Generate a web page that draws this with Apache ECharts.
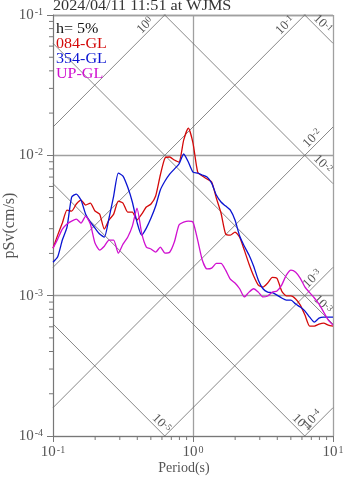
<!DOCTYPE html>
<html><head><meta charset="utf-8">
<script src="https://cdn.jsdelivr.net/npm/echarts@6/dist/echarts.min.js"></script>
<style>html,body{margin:0;padding:0;background:#fff}#c{width:347px;height:478px}</style>
</head><body><div id="c"></div>
<script>
// ---- data ----
const titleText = '2024/04/11 11:51 at WJMS';
const dampingText = 'h= 5%';
const seriesNames = ['084-GL', '354-GL', 'UP-GL'];
const periods = [0.1, 0.108, 0.1166, 0.1259, 0.1359, 0.1468, 0.1585, 0.1711, 0.1848, 0.1995,
  0.2154, 0.2326, 0.2512, 0.2712, 0.2929, 0.3162, 0.3415, 0.3687, 0.3981, 0.4299,
  0.4642, 0.5012, 0.5412, 0.5843, 0.631, 0.6813, 0.7356, 0.7943, 0.8577, 0.9261,
  1.0, 1.08, 1.166, 1.259, 1.359, 1.468, 1.585, 1.711, 1.848, 1.995,
  2.154, 2.326, 2.512, 2.712, 2.929, 3.162, 3.415, 3.687, 3.981, 4.299,
  4.642, 5.012, 5.412, 5.843, 6.31, 6.813, 7.356, 7.943, 8.577, 9.261, 10.0];
const sv084 = [0.00218, 0.00270, 0.00329, 0.00407, 0.00401, 0.00450, 0.00480, 0.00442, 0.00457, 0.00401,
  0.00381, 0.00298, 0.00346, 0.00381, 0.00472, 0.00457, 0.00394, 0.00394, 0.00346, 0.00381,
  0.00428, 0.00450, 0.00513, 0.00724, 0.00957, 0.00973, 0.00926, 0.00896, 0.01285, 0.01563,
  0.01223, 0.00760, 0.00712, 0.00678, 0.00645, 0.00496, 0.00388, 0.00275, 0.00270, 0.00284,
  0.00261, 0.00211, 0.00168, 0.00138, 0.00119, 0.00115, 0.00123, 0.00135, 0.00133, 0.00108,
  0.000995, 0.000995, 0.000947, 0.000857, 0.000727, 0.000607, 0.000607, 0.000627, 0.000638, 0.000617,
  0.000607];
const sv354 = [0.00173, 0.00189, 0.00249, 0.00308, 0.00504, 0.00530, 0.00480, 0.00381, 0.00334, 0.00303,
  0.00275, 0.00261, 0.00357, 0.00513, 0.00747, 0.00712, 0.00594, 0.00465, 0.00334, 0.00270,
  0.00303, 0.00357, 0.00435, 0.00566, 0.00656, 0.00735, 0.00798, 0.00867, 0.01022, 0.00896,
  0.00760, 0.00747, 0.00724, 0.00700, 0.00634, 0.00521, 0.00465, 0.00435, 0.00407, 0.00346,
  0.00266, 0.00225, 0.00195, 0.00162, 0.00129, 0.00112, 0.00106, 0.00105, 0.00101, 0.000963,
  0.000930, 0.000930, 0.000871, 0.000829, 0.000776, 0.000703, 0.000648, 0.000692, 0.000703, 0.000703,
  0.000703];
const svUP = [0.00218, 0.00253, 0.00298, 0.00324, 0.00340, 0.00351, 0.00329, 0.00369, 0.00324, 0.00237,
  0.00211, 0.00225, 0.00249, 0.00249, 0.00201, 0.00233, 0.00261, 0.00313, 0.00421, 0.00279,
  0.00222, 0.00215, 0.00204, 0.00222, 0.00201, 0.00204, 0.00241, 0.00319, 0.00334, 0.00340,
  0.00334, 0.00249, 0.00179, 0.00155, 0.00157, 0.00170, 0.00170, 0.00152, 0.00131, 0.00123,
  0.00112, 0.000979, 0.00106, 0.00112, 0.00106, 0.000979, 0.000995, 0.00106, 0.00108, 0.00119,
  0.00140, 0.00152, 0.00147, 0.00133, 0.00115, 0.00105, 0.000963, 0.000871, 0.000764, 0.000670,
  0.000617];
const xRange = [0.1, 10];
const yRange = [0.0001, 0.1];
const xMajorExps = [-1, 0, 1];
const yMajorExps = [-4, -3, -2, -1];
const minorMultipliers = [2, 3, 4, 5, 6, 7, 8, 9];
const saValues = [1, 0.1, 0.01, 0.001, 0.0001];      // pseudo acceleration lines
const sdValues = [0.1, 0.01, 0.001, 0.0001, 0.00001]; // displacement lines

// ---- styles ----
const FONT = '"Liberation Serif","Times New Roman",serif';
const seriesColors = ['#d40a0a', '#0a14d2', '#d010d0'];
const TWO_PI = 2 * Math.PI;

const chart = echarts.init(document.getElementById('c'), null, {renderer: 'canvas'});

function expLabel(v) {
  const e = Math.round(Math.log10(v));
  return '10{s|' + e + '}';
}
const axisRich = {
  s: {fontSize: 10, fontFamily: FONT, color: '#555', verticalAlign: 'top', padding: [0, 0, 0, 1]}
};

const diagSeries = [];
saValues.forEach(sa => {
  diagSeries.push({
    type: 'line', silent: true, symbol: 'none', animation: false, z: 1,
    lineStyle: {color: '#6a6a6a', width: 0.8},
    data: [[xRange[0], sa * xRange[0] / TWO_PI], [xRange[1], sa * xRange[1] / TWO_PI]]
  });
});
sdValues.forEach(sd => {
  diagSeries.push({
    type: 'line', silent: true, symbol: 'none', animation: false, z: 1,
    lineStyle: {color: '#6a6a6a', width: 0.8},
    data: [[xRange[0], TWO_PI * sd / xRange[0]], [xRange[1], TWO_PI * sd / xRange[1]]]
  });
});

// labels of diagonal lines + minor ticks
const decoSeries = {
  type: 'custom', silent: true, clip: false, animation: false, z: 4,
  data: [[1, 0.01]],
  renderItem: function (params, api) {
    const children = [];
    const textStyle = (txt) => ({
      text: txt, fill: '#555', font: '13px ' + FONT,
      align: 'center', verticalAlign: 'bottom',
      rich: {s: {fontSize: 9, fontFamily: FONT, fill: '#555', verticalAlign: 'top'}}
    });
    saValues.forEach(sa => {
      let tEnd = TWO_PI * yRange[1] / sa, onTop = true;
      if (tEnd > xRange[1]) { tEnd = xRange[1]; onTop = false; }
      const p = api.coord([tEnd, sa * tEnd / TWO_PI]);
      const d = onTop ? 15 : 16;
      children.push({type: 'text', x: p[0] - d, y: p[1] + d, rotation: Math.PI / 4,
        style: textStyle(expLabel(sa))});
    });
    sdValues.forEach(sd => {
      let tEnd = TWO_PI * sd / yRange[0], onBottom = true;
      if (tEnd > xRange[1]) { tEnd = xRange[1]; onBottom = false; }
      const p = api.coord([tEnd, TWO_PI * sd / tEnd]);
      const d = onBottom ? 8 : 15;
      children.push({type: 'text', x: p[0] - d, y: p[1] - d, rotation: -Math.PI / 4,
        style: textStyle(expLabel(sd))});
    });
    yMajorExps.forEach(e => {
      minorMultipliers.forEach(m => {
        const v = m * Math.pow(10, e);
        if (v >= yRange[1]) return;
        const p = api.coord([xRange[0], v]);
        children.push({type: 'line', shape: {x1: p[0] - 4, y1: p[1], x2: p[0], y2: p[1]},
          style: {stroke: '#777', lineWidth: 1}});
      });
    });
    xMajorExps.forEach(e => {
      minorMultipliers.forEach(m => {
        const v = m * Math.pow(10, e);
        if (v >= xRange[1]) return;
        const p = api.coord([v, yRange[0]]);
        children.push({type: 'line', shape: {x1: p[0], y1: p[1], x2: p[0], y2: p[1] + 4},
          style: {stroke: '#777', lineWidth: 1}});
      });
    });
    return {type: 'group', children: children};
  }
};

const dataSeries = [sv084, sv354, svUP].map((arr, i) => ({
  name: seriesNames[i], type: 'line', symbol: 'none', animation: false, z: 6,
  smooth: 0.2,
  lineStyle: {color: seriesColors[i], width: 1.3},
  data: periods.map((t, k) => [t, arr[k]])
}));

const legendLines = [dampingText].concat(seriesNames);
const legendColors = ['#111'].concat(seriesColors);

chart.setOption({
  backgroundColor: '#fff',
  animation: false,
  grid: {left: 53, top: 15, right: 14, bottom: 42, containLabel: false, outerBoundsMode: 'none'},
  xAxis: {
    type: 'log', logBase: 10, min: xRange[0], max: xRange[1], interval: 1,
    name: 'Period(s)', nameLocation: 'middle', nameGap: 25, nameMoveOverlap: false,
    nameTextStyle: {fontFamily: FONT, fontSize: 14, color: '#555', padding: [0, 18, 0, 0]},
    axisLine: {show: true, onZero: false, lineStyle: {color: '#777', width: 1}},
    axisTick: {show: true, length: 6, lineStyle: {color: '#777'}},
    axisLabel: {formatter: expLabel, rich: axisRich, fontFamily: FONT, fontSize: 15, color: '#555', margin: 9},
    splitLine: {show: true, lineStyle: {color: '#a0a0a0', width: 1.3}},
    minorTick: {show: false}
  },
  yAxis: {
    type: 'log', logBase: 10, min: yRange[0], max: yRange[1], interval: 1,
    name: 'pSv(cm/s)', nameLocation: 'middle', nameGap: 35, nameMoveOverlap: false,
    nameTextStyle: {fontFamily: FONT, fontSize: 16, color: '#555'},
    axisLine: {show: true, onZero: false, lineStyle: {color: '#777', width: 1}},
    axisTick: {show: true, length: 6, lineStyle: {color: '#777'}},
    axisLabel: {formatter: expLabel, rich: axisRich, fontFamily: FONT, fontSize: 15, color: '#555', margin: 10},
    splitLine: {show: true, lineStyle: {color: '#a0a0a0', width: 1.3}}
  },
  graphic: [
    {type: 'text', x: 53, y: 6, scaleX: 1.08,
     style: {text: titleText, font: '15px ' + FONT, fill: '#333', verticalAlign: 'middle'}}
  ].concat(legendLines.map((t, i) => ({
    type: 'text', x: 56, y: 29 + i * 15, scaleX: 1.07, z: 10,
    style: {text: t, font: '15px ' + FONT, fill: legendColors[i], verticalAlign: 'middle'}
  }))),
  series: diagSeries.concat([decoSeries]).concat(dataSeries)
});
</script>
</body></html>
